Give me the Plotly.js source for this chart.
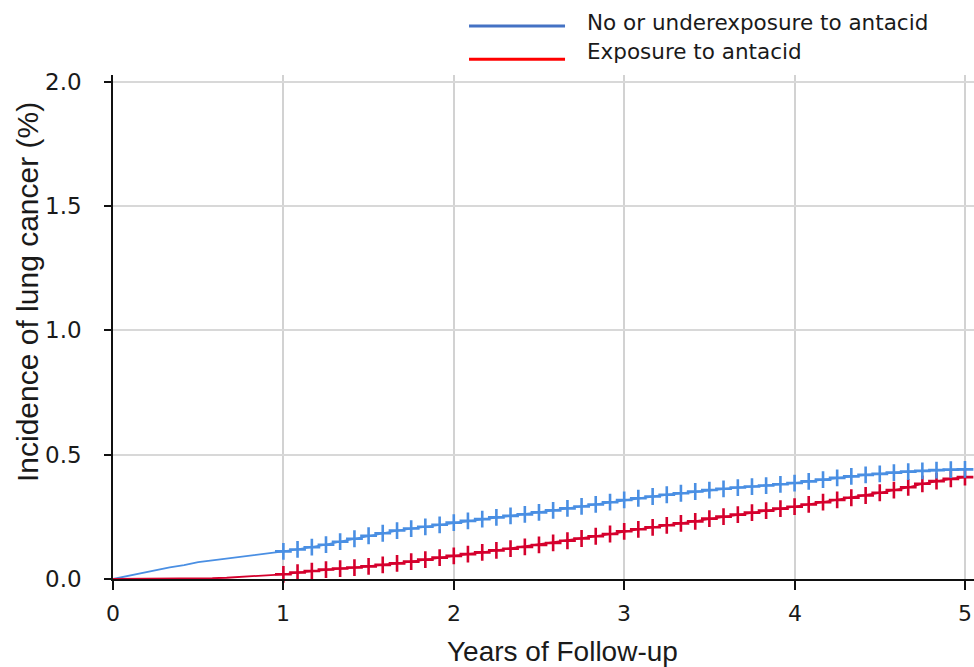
<!DOCTYPE html>
<html>
<head>
<meta charset="utf-8">
<script src="https://cdn.plot.ly/plotly-3.0.1.min.js"></script>
<style>html,body{margin:0;padding:0;background:#fff;}#chart{width:974px;height:667px;}</style>
</head>
<body>
<div id="chart"></div>
<script>
// Years of follow-up (monthly steps)
const years = [0.000,0.083,0.167,0.250,0.333,0.417,0.500,0.583,0.667,0.750,0.833,0.917,
  1.000,1.083,1.167,1.250,1.333,1.417,1.500,1.583,1.667,1.750,1.833,1.917,
  2.000,2.083,2.167,2.250,2.333,2.417,2.500,2.583,2.667,2.750,2.833,2.917,
  3.000,3.083,3.167,3.250,3.333,3.417,3.500,3.583,3.667,3.750,3.833,3.917,
  4.000,4.083,4.167,4.250,4.333,4.417,4.500,4.583,4.667,4.750,4.833,4.917,5.000];

// Cumulative incidence (%) – no or underexposure to antacid
const noExposure = [0.000,0.012,0.025,0.037,0.047,0.056,0.068,0.075,0.082,0.089,0.095,0.103,
  0.111,0.119,0.128,0.138,0.150,0.162,0.174,0.184,0.195,0.203,0.210,0.218,
  0.227,0.234,0.241,0.248,0.254,0.260,0.268,0.276,0.284,0.292,0.300,0.309,
  0.318,0.325,0.332,0.339,0.345,0.352,0.358,0.363,0.368,0.372,0.376,0.381,
  0.386,0.393,0.400,0.407,0.413,0.419,0.423,0.428,0.432,0.435,0.438,0.440,0.441];

// Cumulative incidence (%) – exposure to antacid
const exposure = [0.000,0.000,0.000,0.000,0.000,0.001,0.002,0.003,0.005,0.008,0.011,0.015,
  0.019,0.026,0.032,0.038,0.042,0.046,0.051,0.057,0.063,0.070,0.078,0.086,
  0.093,0.100,0.107,0.115,0.122,0.129,0.137,0.145,0.154,0.163,0.172,0.181,
  0.192,0.200,0.208,0.216,0.224,0.232,0.243,0.251,0.259,0.267,0.275,0.283,
  0.291,0.300,0.309,0.318,0.327,0.336,0.347,0.358,0.369,0.383,0.394,0.403,0.410];

// Index of first censoring mark (1 year)
const censorStart = 12;

const seriesNames = ["No or underexposure to antacid", "Exposure to antacid"];
const xTicks = [0, 1, 2, 3, 4, 5];
const xTickText = ["0", "1", "2", "3", "4", "5"];
const yTicks = [0, 0.5, 1.0, 1.5, 2.0];
const yTickText = ["0.0", "0.5", "1.0", "1.5", "2.0"];

const blueCurve = "#4a8fe3";
const redCurve = "#d5002d";
const blueLegend = "#4472c4";
const redLegend = "#ff0000";
const FONT = "Liberation Sans, Arial, sans-serif";
const TFONT = "DejaVu Sans, sans-serif";

function curve(y, color, name) {
  return {x: years, y: y, type: "scatter", mode: "lines", name: name,
    line: {color: color, width: 1.8}, showlegend: false, cliponaxis: false, hoverinfo: "skip"};
}
function marks(y, color, name) {
  return {x: years.slice(censorStart), y: y.slice(censorStart), type: "scatter", mode: "markers",
    name: name, showlegend: false, cliponaxis: false,
    marker: {symbol: "cross-thin", size: 12, color: color, line: {color: color, width: 2.6}}};
}

const data = [
  curve(noExposure, blueCurve, seriesNames[0]),
  curve(exposure, redCurve, seriesNames[1]),
  marks(exposure, redCurve, seriesNames[1]),
  marks(noExposure, blueCurve, seriesNames[0])
];

const xTickFont = {family: TFONT, size: 22, color: "#1a1a1a"};
const yTickFont = {family: TFONT, size: 23, color: "#1a1a1a"};
const xLabelAnn = xTicks.map((v, i) => ({text: xTickText[i], xref: "x", yref: "paper", x: v, y: -0.0675,
  xanchor: "center", yanchor: "middle", showarrow: false, font: xTickFont}));
const yLabelAnn = yTicks.map((v, i) => ({text: yTickText[i], xref: "paper", yref: "y", x: -0.0337, y: v,
  xanchor: "right", yanchor: "middle", showarrow: false, font: yTickFont}));

const layout = {
  width: 974, height: 667,
  margin: {l: 113, r: 0, t: 75, b: 88},
  paper_bgcolor: "#fff", plot_bgcolor: "#fff",
  showlegend: false,
  font: {family: FONT, size: 22, color: "#1a1a1a"},
  xaxis: {
    range: [0, 5.053], tickmode: "array", tickvals: xTicks, showticklabels: false,
    showgrid: true, gridcolor: "#d2d2d2", gridwidth: 2,
    zeroline: false, showline: true, linecolor: "#111", linewidth: 2,
    ticks: "outside", ticklen: 9, tickwidth: 2, tickcolor: "#111"
  },
  yaxis: {
    range: [0, 2.028], tickmode: "array", tickvals: yTicks, showticklabels: false,
    showgrid: true, gridcolor: "#d8d8d8", gridwidth: 2,
    zeroline: false, showline: true, linecolor: "#111", linewidth: 2,
    ticks: "outside", ticklen: 7, tickwidth: 2, tickcolor: "#111"
  },
  shapes: [
    {type: "line", xref: "paper", yref: "paper", x0: 0.4135, x1: 0.525, y0: 1.0972, y1: 1.0972,
      line: {color: blueLegend, width: 3}},
    {type: "line", xref: "paper", yref: "paper", x0: 0.4135, x1: 0.525, y0: 1.0311, y1: 1.0311,
      line: {color: redLegend, width: 3}}
  ],
  annotations: [
    {text: seriesNames[0], xref: "paper", yref: "paper", x: 0.5482, y: 1.1036,
      xanchor: "left", yanchor: "middle", showarrow: false, font: {family: TFONT, size: 21.5, color: "#1a1a1a"}},
    {text: seriesNames[1], xref: "paper", yref: "paper", x: 0.5482, y: 1.0470,
      xanchor: "left", yanchor: "middle", showarrow: false, font: {family: TFONT, size: 21.5, color: "#1a1a1a"}},
    {text: "Years of Follow-up", xref: "paper", yref: "paper", x: 0.5215, y: -0.1448,
      xanchor: "center", yanchor: "middle", showarrow: false, font: {family: FONT, size: 28, color: "#1a1a1a"}},
    {text: "Incidence of lung cancer (%)", xref: "paper", yref: "paper", x: -0.0999, y: 0.5694,
      xanchor: "center", yanchor: "middle", textangle: -90, showarrow: false,
      font: {family: FONT, size: 30, color: "#1a1a1a"}}
  ].concat(xLabelAnn, yLabelAnn)
};

Plotly.newPlot("chart", data, layout, {displayModeBar: false, staticPlot: true});
</script>
</body>
</html>
